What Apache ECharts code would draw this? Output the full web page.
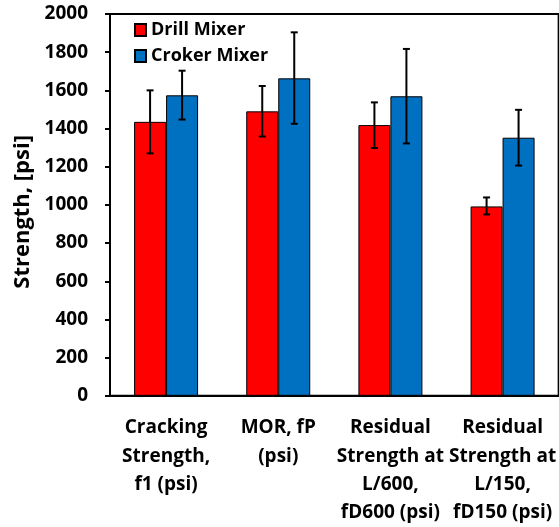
<!DOCTYPE html>
<html><head><meta charset="utf-8">
<script src="https://cdn.jsdelivr.net/npm/echarts@6/dist/echarts.min.js"></script>
<style>html,body{margin:0;padding:0;background:#fff}#c{width:559px;height:527px}</style>
</head><body><div id="c"></div>
<script>
var categories = ['Cracking\nStrength,\nf1 (psi)', 'MOR, fP\n(psi)', 'Residual\nStrength at\nL/600,\nfD600 (psi)', 'Residual\nStrength at\nL/150,\nfD150 (psi)'];
var seriesNames = ['Drill Mixer', 'Croker Mixer'];
var drillValues = [1435, 1490, 1418, 992];
var crokerValues = [1574, 1663, 1569, 1352];
var drillErrLow = [1270, 1358, 1298, 950];
var drillErrHigh = [1600, 1623, 1537, 1039];
var crokerErrLow = [1447, 1425, 1322, 1206];
var crokerErrHigh = [1703, 1904, 1817, 1498];
var yTicks = [0, 200, 400, 600, 800, 1000, 1200, 1400, 1600, 1800, 2000];

var FONT = 'Open Sans';
var BAR_W = 32;
function errSeries(low, high, offset) {
  var data = low.map(function (l, i) { return [i, l, high[i]]; });
  return {
    type: 'custom', silent: true, z: 10,
    data: data,
    encode: { x: 0, y: [1, 2] },
    renderItem: function (params, api) {
      var i = api.value(0);
      var lo = api.coord([i, api.value(1)]);
      var hi = api.coord([i, api.value(2)]);
      var x = lo[0] + offset;
      var cap = 3.5;
      var st = { stroke: '#000', lineWidth: 2 };
      return { type: 'group', children: [
        { type: 'line', shape: { x1: x, y1: lo[1], x2: x, y2: hi[1] }, style: st },
        { type: 'line', shape: { x1: x - cap, y1: lo[1], x2: x + cap, y2: lo[1] }, style: st },
        { type: 'line', shape: { x1: x - cap, y1: hi[1], x2: x + cap, y2: hi[1] }, style: st }
      ]};
    }
  };
}
var chart = echarts.init(document.getElementById('c'));
chart.setOption({
  animation: false,
  textStyle: { fontFamily: FONT, fontWeight: 'bold', color: '#000' },
  grid: { left: 110, top: 14, width: 450, height: 383.5, show: true, borderColor: '#000', borderWidth: 2, backgroundColor: 'transparent' },
  legend: {
    left: 129, top: 15, orient: 'vertical', itemGap: 6,
    itemWidth: 11, itemHeight: 12, icon: 'rect',
    data: seriesNames,
    textStyle: { fontFamily: FONT, fontWeight: 'bold', fontSize: 18, color: '#000', lineHeight: 20 }
  },
  xAxis: {
    type: 'category', data: categories,
    axisLine: { lineStyle: { color: '#000', width: 2 } },
    axisTick: { show: false },
    axisLabel: { interval: 0, margin: 18, fontFamily: FONT, fontWeight: 'bold', fontSize: 19, lineHeight: 28.3, color: '#000' }
  },
  yAxis: {
    type: 'value', min: 0, max: 2000, interval: 200,
    name: 'Strength, [psi]', nameLocation: 'middle', nameGap: 75, nameRotate: 90,
    nameTextStyle: { fontFamily: FONT, fontWeight: 'bold', fontSize: 22, color: '#000', padding: [0, 14, 0, 0] },
    axisLine: { show: true, lineStyle: { color: '#000', width: 2 } },
    axisTick: { show: true, length: 5, lineStyle: { color: '#000', width: 2 } },
    splitLine: { show: false },
    axisLabel: { margin: 22, fontFamily: FONT, fontWeight: 'bold', fontSize: 19, color: '#000',
      formatter: function (v) { return yTicks.indexOf(v) >= 0 ? String(v) : ''; } }
  },
  series: [
    { name: seriesNames[0], type: 'bar', data: drillValues, barWidth: BAR_W, barGap: '0%',
      itemStyle: { color: '#FF0000', borderColor: '#000', borderWidth: 1 } },
    { name: seriesNames[1], type: 'bar', data: crokerValues, barWidth: BAR_W, barGap: '0%',
      itemStyle: { color: '#0070C0', borderColor: '#000', borderWidth: 1 } },
    errSeries(drillErrLow, drillErrHigh, -BAR_W / 2),
    errSeries(crokerErrLow, crokerErrHigh, BAR_W / 2)
  ]
});
</script></body></html>
